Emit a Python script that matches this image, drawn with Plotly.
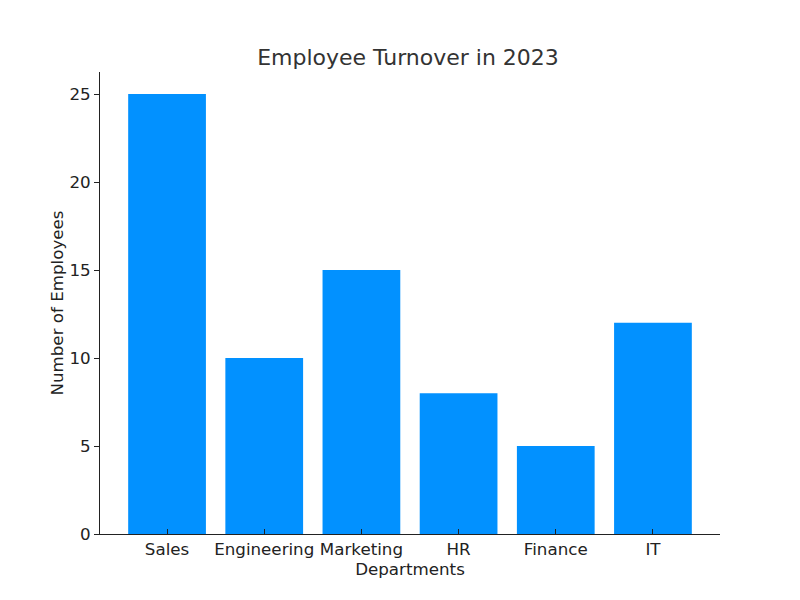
import plotly.graph_objects as go

departments = ["Sales", "Engineering", "Marketing", "HR", "Finance", "IT"]
turnover = [25, 10, 15, 8, 5, 12]
y_ticks = [0, 5, 10, 15, 20, 25]

fig = go.Figure(go.Bar(
    x=list(range(len(departments))),
    y=turnover,
    width=0.8,
    marker_color="#0291ff",
    marker_line_width=0,
))

fig.update_layout(
    width=800, height=600,
    paper_bgcolor="white", plot_bgcolor="white",
    margin=dict(l=92, r=88, t=64, b=74),
    font=dict(family="DejaVu Sans", size=16.7, color="#222222"),
    title=dict(text="Employee Turnover in 2023", x=0.5, xanchor="center",
               y=1 - 49 / 600, yanchor="middle",
               font=dict(size=22, color="#333333")),
    showlegend=False,
)

fig.update_xaxes(
    range=[-0.69, 5.69],
    tickvals=list(range(len(departments))),
    ticktext=departments,
    ticks="inside", ticklen=5, tickcolor="#222222",
    showline=True, linecolor="#222222", linewidth=1,
    showgrid=False, zeroline=False,
    tickfont=dict(size=16.7),
    title=dict(text="Departments", font=dict(size=16.7), standoff=4),
)

fig.update_yaxes(
    range=[0, 26.25],
    tickvals=y_ticks,
    ticks="outside", ticklen=5, tickcolor="#222222",
    showline=True, linecolor="#222222", linewidth=1,
    showgrid=False, zeroline=False,
    tickfont=dict(size=16.7),
    title=dict(text="Number of Employees", font=dict(size=16.7), standoff=1),
)

fig.write_html("out.html")
